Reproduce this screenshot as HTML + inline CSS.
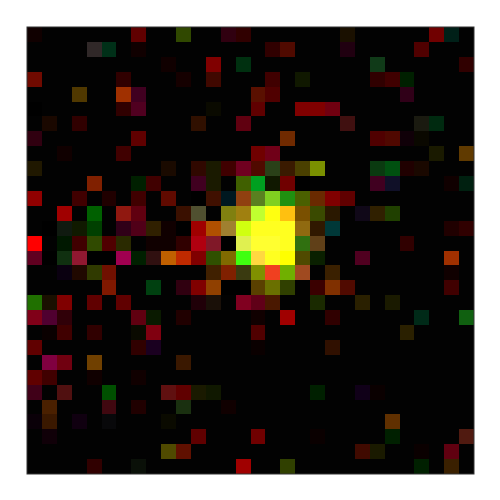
<!DOCTYPE html>
<html><head><meta charset="utf-8"><style>
html,body{margin:0;padding:0;background:#fff;}
svg{display:block;}
</style></head><body>
<svg id="chart" width="500" height="500">
<rect x="0" y="0" width="500" height="500" fill="#fff"/>
<rect x="27" y="27" width="447" height="447" fill="#020202"/>
<g id="cells"></g>
<rect x="27" y="27" width="447" height="447" fill="none" stroke="#333" stroke-width="1"/>
</svg>
<script>
const gridSize = 30;
const rowsIdx = [
0,0,0,0,0,0,0,0,
1,1,1,1,1,1,1,
2,2,2,2,2,
3,3,3,3,3,3,3,3,3,
4,4,4,4,4,4,
5,5,5,5,5,5,5,5,
6,6,6,6,6,6,6,
7,7,7,7,7,7,7,
8,8,8,8,8,8,
9,9,9,9,9,9,9,9,9,9,9,9,9,9,9,
10,10,10,10,10,10,10,10,10,10,10,10,10,10,
11,11,11,11,11,11,11,11,11,11,11,11,11,11,11,11,
12,12,12,12,12,12,12,12,12,12,12,12,12,12,12,12,12,
13,13,13,13,13,13,13,13,13,13,13,13,13,13,13,13,13,13,13,13,13,
14,14,14,14,14,14,14,14,14,14,14,14,14,14,14,14,14,14,14,
15,15,15,15,15,15,15,15,15,15,15,15,15,15,15,15,15,15,15,15,15,15,
16,16,16,16,16,16,16,16,16,16,16,16,16,
17,17,17,17,17,17,17,17,17,17,17,17,17,17,
18,18,18,18,18,18,18,18,18,18,18,18,18,
19,19,19,19,19,19,19,19,19,19,19,
20,20,20,20,20,20,20,
21,21,21,21,21,
22,22,22,22,
23,23,23,23,
24,24,24,24,24,24,24,24,24,24,
25,25,25,25,25,
26,26,26,26,26,26,
27,27,27,27,27,27,
28,28,28,28,28,28,
29,29,29,29,29,29
];
const colsIdx = [
7,10,13,14,21,27,28,0,
4,5,7,16,17,21,26,
9,12,14,23,29,
0,6,10,12,16,18,23,24,25,
3,6,7,15,16,25,
6,7,12,15,18,19,20,0,
1,3,11,14,21,26,27,
0,7,17,23,24,25,26,
2,6,15,16,27,29,
0,9,11,14,15,16,17,18,19,23,24,25,26,12,13,
4,7,8,11,12,14,15,16,17,18,23,24,28,29,
0,3,5,7,9,12,13,14,15,16,17,18,19,20,21,11,
2,4,6,7,10,11,13,14,15,16,17,18,19,20,22,23,24,
2,3,4,6,7,8,9,11,12,13,14,15,16,17,18,19,20,28,29,10,1,
0,2,3,4,5,6,8,9,10,11,12,14,15,16,17,18,19,25,13,
0,2,3,6,7,8,9,10,11,12,13,14,15,16,17,18,19,22,28,1,4,5,
2,3,4,5,12,13,14,15,16,17,18,20,28,
5,8,10,11,12,15,16,17,19,20,21,28,14,13,
0,1,2,4,6,11,12,14,15,16,19,22,24,
0,1,2,7,8,10,15,17,20,26,29,
1,2,4,7,8,15,25,
0,7,8,15,20,
1,2,4,10,
0,1,4,7,
0,2,5,9,10,11,12,19,22,23,
1,5,7,10,13,
0,1,3,5,9,24,
1,11,15,19,24,29,
9,10,22,23,26,28,
4,7,14,17,26,28
];
const colors = [
"#600000","#304800","#300010","#300000","#1a1000","#700000","#002018","#100000",
"#302828","#003018","#100000","#300000","#500a00","#200010","#500000",
"#100000","#800000","#003010","#103a18","#300000",
"#700a00","#300000","#150000","#400800","#400000","#101800","#300000","#400000","#002000",
"#503800","#a03000","#400020","#5a1000","#500000","#300018",
"#300000","#500020","#0a0a00","#600000","#800000","#800000","#700010","#000000",
"#1a0800","#300000","#301000","#600010","#401010","#1a1a10","#002a10",
"#300010","#600000","#702a00","#500000","#500800","#100008","#0a0800",
"#100000","#400000","#700000","#700018","#1a1a00","#603a00",
"#201800","#1a0a00","#300800","#700020","#500a00","#2a4018","#3a1a00","#4a4000","#7a9000","#0a3a10","#005010","#200000","#1a0800","#1a1a00","#400000",
"#802000","#002000","#400000","#400020","#1a1a00","#406000","#00a020","#101800","#700000","#000000","#400020","#101028","#100000","#002010",
"#900000","#400000","#200000","#400000","#600a00","#401000","#001820","#904010","#5a8020","#80d020","#209010","#4a6000","#6a2a00","#800000","#600000","#000000",
"#a00000","#006000","#901810","#600010","#3a1000","#505030","#808010","#a08010","#c0ff30","#ffff10","#ffc010","#7a5000","#3a4a00","#2a1800","#100818","#302000","#204000",
"#101a10","#101a00","#004000","#300018","#500018","#302000","#100000","#a00000","#b05000","#a08030","#d0ff10","#ffff20","#ffff20","#ffff20","#906a10","#301800","#003838","#200000","#300000","#000000","#000000",
"#ff0000","#001800","#400000","#304a00","#500000","#2a2a00","#100000","#100000","#300000","#b00010","#801828","#e0f050","#ffff30","#ffff30","#ffff20","#307010","#604018","#300000","#000000",
"#600020","#103010","#901830","#a00050","#002000","#301010","#c06000","#c02a00","#800000","#305000","#806a00","#40ff10","#ffd840","#ffff20","#ffff00","#504a00","#0a2000","#500020","#a03000","#000000","#000000","#000000",
"#0a0010","#200800","#303a00","#701000","#402000","#802000","#3a3a10","#809000","#f04020","#70b000","#a04a20","#3a2000","#100000",
"#801800","#004010","#300010","#800000","#904000","#5a4000","#6a7000","#304000","#3a0000","#803000","#500a00","#400000","#000000","#000000",
"#207000","#1a1000","#800000","#600000","#600000","#200008","#1a1008","#800020","#600018","#4a1800","#1a2a00","#2a2000","#1a1a00",
"#800018","#500030","#300008","#600010","#0a1a00","#200000","#100000","#a00000","#300000","#002a18","#106010",
"#0a0000","#400000","#300000","#0a0a00","#800010","#500000","#2a2000",
"#600000","#300000","#1a0020","#0a0000","#301000",
"#800040","#700010","#704000","#3a1800",
"#600000","#400000","#100000","#100000",
"#400018","#501010","#005000","#601010","#600000","#1a1a00","#101800","#002000","#100018","#0a0000",
"#4a2000","#400810","#200000","#1a3010","#100000",
"#0a0008","#3a1800","#100010","#08080a","#0a0a00","#603000",
"#100008","#600000","#700000","#0a0000","#002000","#501a10",
"#504a00","#601000","#400a00","#1a1a00","#0a0000","#600010",
"#300000","#0a1008","#a00000","#304000","#002000","#3a2000"
];
const x0 = 27, y0 = 27, span = 447;
function xScale(c){ return x0 + c * span / gridSize; }
function yScale(r){ return y0 + r * span / gridSize; }
const g = document.getElementById('cells');
const n = Math.min(rowsIdx.length, colsIdx.length, colors.length);
for (let i = 0; i < n; i++) {
  const x1 = Math.round(xScale(colsIdx[i])), x2 = Math.round(xScale(colsIdx[i] + 1));
  const y1 = Math.round(yScale(rowsIdx[i])), y2 = Math.round(yScale(rowsIdx[i] + 1));
  const r = document.createElementNS('http://www.w3.org/2000/svg', 'rect');
  r.setAttribute('x', x1); r.setAttribute('y', y1);
  r.setAttribute('width', x2 - x1); r.setAttribute('height', y2 - y1);
  r.setAttribute('fill', colors[i]);
  
  
  g.appendChild(r);
}
</script>
</body></html>
